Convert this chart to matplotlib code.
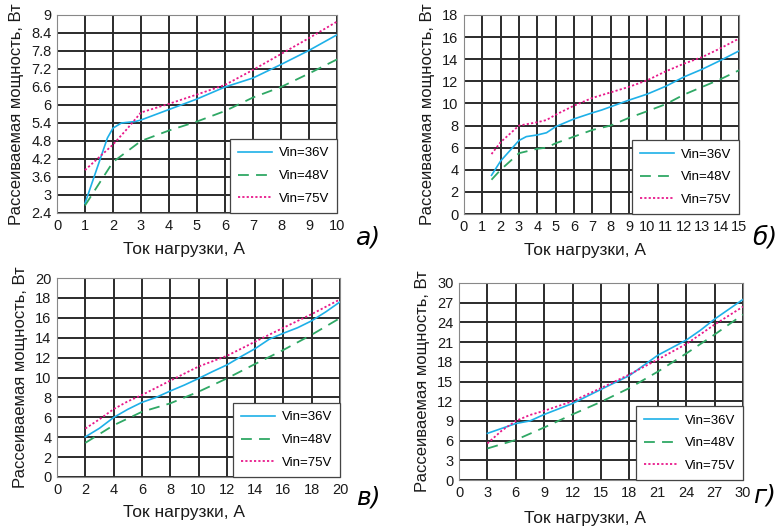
import matplotlib
matplotlib.use('Agg')
import matplotlib.pyplot as plt

plt.rcParams['font.family'] = ['Liberation Sans', 'DejaVu Sans']

# panel a
a_x36 = [1, 1.8, 2.0, 2.3, 2.8, 3, 4, 5, 6, 7, 8, 9, 10]
a_y36 = [2.72, 4.9, 5.23, 5.4, 5.45, 5.5, 5.85, 6.2, 6.6, 6.9, 7.35, 7.82, 8.34]
a_x48 = [1, 2, 3, 4, 5, 6, 7, 8, 9, 10]
a_y48 = [2.65, 4.1, 4.8, 5.15, 5.45, 5.8, 6.25, 6.6, 7.05, 7.52]
a_x75 = [1, 2, 2.5, 3, 4, 5, 6, 7, 8, 9, 10]
a_y75 = [3.83, 4.68, 5.2, 5.75, 6.04, 6.35, 6.67, 7.17, 7.7, 8.23, 8.78]

# panel b
b_x36 = [1.5, 2, 3, 3.4, 4, 4.5, 5, 6, 7, 7.5, 8, 9, 10, 11, 12, 13, 14, 15]
b_y36 = [3.5, 4.8, 6.65, 7.0, 7.15, 7.35, 7.9, 8.6, 9.15, 9.4, 9.7, 10.3, 10.85,
         11.55, 12.4, 13.1, 13.9, 14.75]
b_x48 = [1.5, 2, 3, 4, 4.5, 5, 6, 7, 8, 9, 10, 11, 12, 13, 14, 15]
b_y48 = [3.1, 4.0, 5.5, 5.9, 6.0, 6.4, 7.0, 7.6, 8.0, 8.7, 9.3, 9.93, 10.8,
         11.5, 12.2, 13.0]
b_x75 = [1.5, 2, 3, 4, 4.5, 5, 6, 7, 8, 9, 10, 11, 12, 13, 14, 15]
b_y75 = [5.42, 6.5, 8.0, 8.3, 8.5, 8.98, 9.8, 10.5, 11.0, 11.5, 12.1, 12.9,
         13.6, 14.2, 15.0, 15.87]

# panel c
c_x36 = [2, 3, 4, 5, 6, 7, 8, 9, 10, 11, 12, 13, 14, 15, 16, 17, 18, 19, 20]
c_y36 = [4.03, 4.9, 5.98, 6.8, 7.5, 8.0, 8.64, 9.24, 9.9, 10.6, 11.26, 12.1,
         12.9, 13.85, 14.45, 15.0, 15.7, 16.6, 17.6]
c_x48 = [2, 4, 6, 8, 10, 12, 14, 16, 18, 20]
c_y48 = [3.43, 5.2, 6.55, 7.4, 8.57, 9.9, 11.36, 12.77, 14.3, 15.97]
c_x75 = [2, 3, 4, 5, 6, 8, 10, 12, 14, 16, 18, 20]
c_y75 = [4.87, 5.8, 6.82, 7.6, 8.24, 9.68, 11.1, 12.17, 13.6, 15.0, 16.37, 17.85]

# panel d
d_x36 = [3, 6, 7.5, 9, 12, 15, 18, 21, 24, 25.5, 27, 30]
d_y36 = [7.1, 8.6, 9.0, 9.98, 11.66, 13.8, 15.9, 19.0, 21.3, 22.8, 24.5, 27.5]
d_x48 = [3, 6, 9, 12, 15, 18, 21, 24, 27, 30]
d_y48 = [4.8, 6.1, 8.0, 10.0, 11.9, 14.0, 16.5, 19.26, 22.15, 25.2]
d_x75 = [3, 4.5, 6, 7.5, 9, 12, 15, 18, 21, 24, 27, 30]
d_y75 = [5.57, 7.5, 9.0, 9.9, 10.54, 12.0, 14.0, 16.07, 18.35, 20.7, 23.67, 26.4]

labels = ['Vin=36V', 'Vin=48V', 'Vin=75V']
colors = ['#1eb0e8', '#2fa865', '#e8198b']
styles = ['-', (0, (6, 4)), (0, (1.2, 1.2))]

xlabel = 'Ток нагрузки, А'
ylabel = 'Рассеиваемая мощность, Вт'

# rect = left, right, top, bottom in pixels; xlab = centre of x label in pixels
panels = [
    dict(rect=[57, 337, 15, 213], xlim=(0, 10), xticks=range(0, 11),
         ylim=(2.4, 9), yticks=[2.4, 3, 3.6, 4.2, 4.8, 5.4, 6, 6.6, 7.2, 7.8, 8.4, 9],
         ylabels=['2.4', '3', '3.6', '4.2', '4.8', '5.4', '6', '6.6', '7.2', '7.8', '8.4', '9'],
         data=[(a_x36, a_y36), (a_x48, a_y48), (a_x75, a_y75)],
         xlab=(184, 250), tag='а)', tagxy=(369, 237)),
    dict(rect=[464, 739, 15, 214], xlim=(0, 15), xticks=range(0, 16),
         ylim=(0, 18), yticks=range(0, 19, 2), ylabels=None,
         data=[(b_x36, b_y36), (b_x48, b_y48), (b_x75, b_y75)],
         xlab=(585, 250), tag='б)', tagxy=(765, 237)),
    dict(rect=[57, 340, 278, 477], xlim=(0, 20), xticks=range(0, 21, 2),
         ylim=(0, 20), yticks=range(0, 21, 2), ylabels=None,
         data=[(c_x36, c_y36), (c_x48, c_y48), (c_x75, c_y75)],
         xlab=(184, 512), tag='в)', tagxy=(368, 498)),
    dict(rect=[459, 743, 283, 480], xlim=(0, 30), xticks=range(0, 31, 3),
         ylim=(0, 30), yticks=range(0, 31, 3), ylabels=None,
         data=[(d_x36, d_y36), (d_x48, d_y48), (d_x75, d_y75)],
         xlab=(585, 518), tag='г)', tagxy=(765, 496)),
]

W, H = 779, 528
fig = plt.figure(figsize=(W / 100, H / 100), dpi=100)

for p in panels:
    l, r, t, b = p['rect']
    ax = fig.add_axes([l / W, 1 - b / H, (r - l) / W, (b - t) / H])
    for (x, y), lab, c, ls in zip(p['data'], labels, colors, styles):
        lw = 1.2 if ls == '-' else 1.3
        ax.plot(x, y, color=c, linestyle=ls, linewidth=lw, label=lab)
    ax.set_xlim(*p['xlim'])
    ax.set_ylim(*p['ylim'])
    ax.set_xticks(list(p['xticks']))
    ax.set_yticks(list(p['yticks']))
    if p['ylabels']:
        ax.set_yticklabels(p['ylabels'])
    ax.grid(True, color='#2b2b2b', linewidth=1.4)
    ax.set_axisbelow(True)
    for s in ax.spines.values():
        s.set_color('#888888')
        s.set_linewidth(0.8)
    ax.tick_params(length=0, labelsize=10.5, pad=4, colors='#1a1a1a')
    ax.set_xlabel(xlabel, fontsize=12.5, color='#1a1a1a', va='center')
    xl, yl = p['xlab']
    ax.xaxis.set_label_coords((xl - l) / (r - l), (b - yl) / (b - t))
    ax.set_ylabel(ylabel, fontsize=12, labelpad=5, color='#1a1a1a')
    leg = ax.legend(loc='lower right', bbox_to_anchor=(1, 0), borderaxespad=0,
                    fancybox=False, framealpha=1, edgecolor='#444444',
                    fontsize=9.5, handlelength=2.6, labelspacing=0.8,
                    borderpad=0.6, handletextpad=0.5)
    leg.get_frame().set_linewidth(0.9)
    fig.text(p['tagxy'][0] / W, 1 - p['tagxy'][1] / H, p['tag'],
             fontsize=18, fontstyle='italic',
             ha='center', va='center', family=['DejaVu Sans'])

fig.savefig('out.png', dpi=100)
